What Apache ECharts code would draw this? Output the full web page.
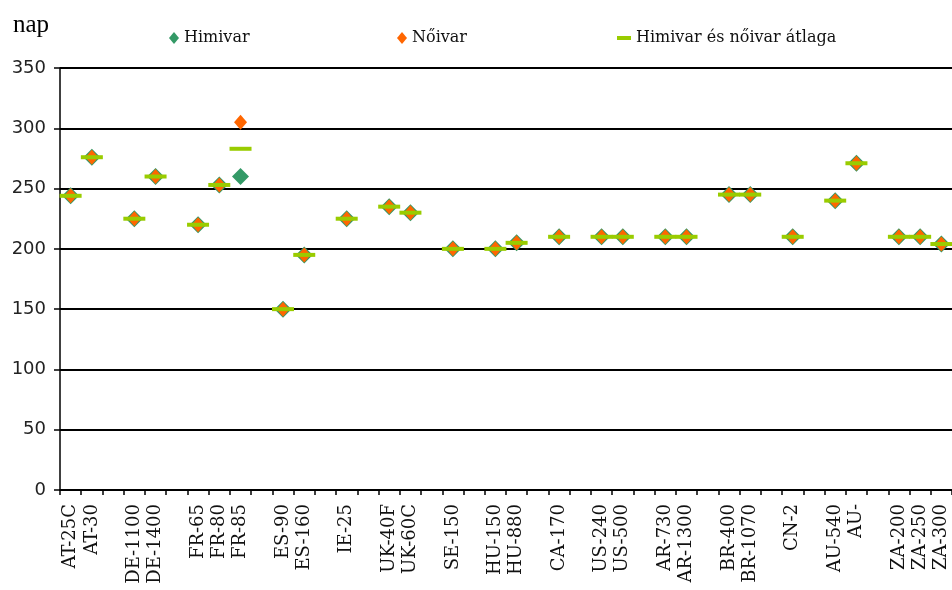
<!DOCTYPE html>
<html>
<head>
<meta charset="utf-8">
<script src="https://cdn.jsdelivr.net/npm/echarts@6/dist/echarts.min.js"></script>
<style>
  html, body { margin: 0; padding: 0; background: #fff; }
  #chart { width: 952px; height: 590px; }
</style>
</head>
<body>
<div id="chart"></div>
<script>
// kategóriák (üres = kihagyott hely)
const categories = [
    'AT-25C', 'AT-30', '', 'DE-1100', 'DE-1400', '', 'FR-65', 'FR-80', 'FR-85', '',
    'ES-90', 'ES-160', '', 'IE-25', '', 'UK-40F', 'UK-60C', '', 'SE-150', '',
    'HU-150', 'HU-880', '', 'CA-170', '', 'US-240', 'US-500', '', 'AR-730', 'AR-1300', '',
    'BR-400', 'BR-1070', '', 'CN-2', '', 'AU-540', 'AU-', '', 'ZA-200', 'ZA-250', 'ZA-300'
];
// Himivar
const himivar = [
    244, 276, null, 225, 260, null, 220, 253, 260, null,
    150, 195, null, 225, null, 235, 230, null, 200, null,
    200, 205, null, 210, null, 210, 210, null, 210, 210, null,
    245, 245, null, 210, null, 240, 271, null, 210, 210, 204
];
// Nőivar
const noivar = [
    244, 276, null, 225, 260, null, 220, 253, 305, null,
    150, 195, null, 225, null, 235, 230, null, 200, null,
    200, 205, null, 210, null, 210, 210, null, 210, 210, null,
    245, 245, null, 210, null, 240, 271, null, 210, 210, 204
];
// átlag
const atlag = [
    244, 276, null, 225, 260, null, 220, 253, 283, null,
    150, 195, null, 225, null, 235, 230, null, 200, null,
    200, 205, null, 210, null, 210, 210, null, 210, 210, null,
    245, 245, null, 210, null, 240, 271, null, 210, 210, 204
];
const yTicks = { min: 0, max: 350, interval: 50 };

const chart = echarts.init(document.getElementById('chart'));

const legendText = { fontFamily: 'DejaVu Serif', fontSize: 16, color: '#111' };

const option = {
    animation: false,
    title: {
        text: 'nap',
        left: 8,
        top: 8,
        textStyle: { fontFamily: 'Liberation Serif', fontSize: 25, fontWeight: 'normal', color: '#000' }
    },
    legend: [
        { data: ['Himivar'], left: 164, top: 25, itemWidth: 10, itemHeight: 12, itemGap: 0, textStyle: legendText },
        { data: ['Nőivar'], left: 392, top: 25, itemWidth: 10, itemHeight: 12, itemGap: 0, textStyle: legendText },
        { data: ['Himivar és nőivar átlaga'], left: 612, top: 25, itemWidth: 14, itemHeight: 4, itemGap: 0, textStyle: legendText }
    ],
    grid: { left: 60, right: 0, top: 68, bottom: 100 },
    xAxis: {
        type: 'category',
        data: categories,
        boundaryGap: true,
        axisLine: { lineStyle: { color: '#000', width: 1.5 } },
        axisTick: { show: true, interval: 0, length: 5, lineStyle: { color: '#000', width: 1.5 } },
        axisLabel: {
            interval: 0,
            rotate: 90,
            margin: 14,
            fontFamily: 'DejaVu Serif',
            fontSize: 18,
            color: '#111'
        },
        splitLine: { show: false }
    },
    yAxis: {
        type: 'value',
        min: yTicks.min,
        max: yTicks.max,
        interval: yTicks.interval,
        axisLine: { show: true, lineStyle: { color: '#000', width: 1.5 } },
        axisTick: { show: true, length: 6, lineStyle: { color: '#000', width: 1.5 } },
        axisLabel: { margin: 14, fontFamily: 'DejaVu Sans', fontSize: 18, color: '#222' },
        splitLine: { lineStyle: { color: '#000', width: 1.8 } }
    },
    series: [
        {
            name: 'Himivar',
            type: 'scatter',
            symbol: 'diamond',
            symbolSize: [17, 17],
            itemStyle: { color: '#339966', opacity: 1 },
            data: himivar,
            z: 2
        },
        {
            name: 'Nőivar',
            type: 'scatter',
            symbol: 'diamond',
            symbolSize: [13, 15],
            itemStyle: { color: '#FF6600', opacity: 1 },
            data: noivar,
            z: 3
        },
        {
            name: 'Himivar és nőivar átlaga',
            type: 'scatter',
            symbol: 'rect',
            symbolSize: [22, 4],
            itemStyle: { color: '#99CC00', opacity: 1 },
            data: atlag,
            z: 4
        }
    ]
};
chart.setOption(option);
</script>
</body>
</html>
